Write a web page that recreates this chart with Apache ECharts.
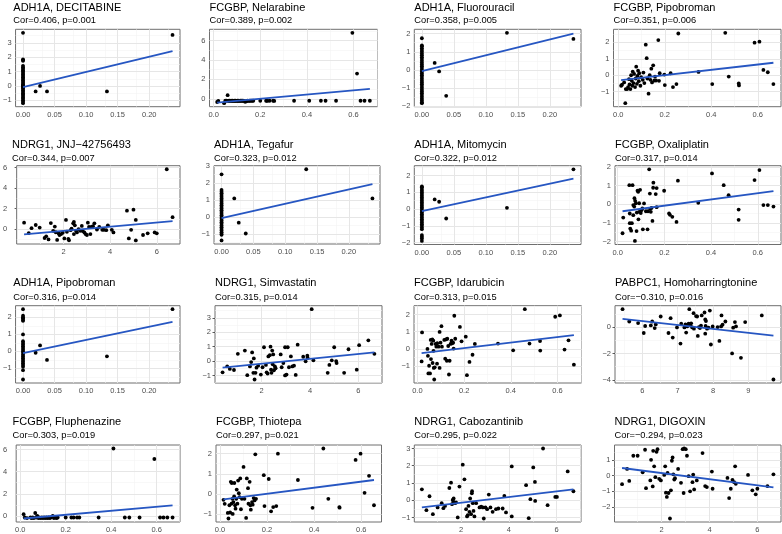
<!DOCTYPE html>
<html><head><meta charset="utf-8">
<script src="https://cdn.jsdelivr.net/npm/echarts@6/dist/echarts.min.js"></script>
<style>html,body{margin:0;padding:0;background:#fff}#c{width:782px;height:534px}</style>
</head><body><div id="c"></div><script>
// ---------- titles ----------
const panelTitles = ['ADH1A, DECITABINE','FCGBP, Nelarabine','ADH1A, Fluorouracil','FCGBP, Pipobroman',
 'NDRG1, JNJ\u221242756493','ADH1A, Tegafur','ADH1A, Mitomycin','FCGBP, Oxaliplatin',
 'ADH1A, Pipobroman','NDRG1, Simvastatin','FCGBP, Idarubicin','PABPC1, Homoharringtonine',
 'FCGBP, Fluphenazine','FCGBP, Thiotepa','NDRG1, Cabozantinib','NDRG1, DIGOXIN'];
const panelStats = ['Cor=0.406, p=0.001','Cor=0.389, p=0.002','Cor=0.358, p=0.005','Cor=0.351, p=0.006',
 'Cor=0.344, p=0.007','Cor=0.323, p=0.012','Cor=0.322, p=0.012','Cor=0.317, p=0.014',
 'Cor=0.316, p=0.014','Cor=0.315, p=0.014','Cor=0.313, p=0.015','Cor=\u22120.310, p=0.016',
 'Cor=0.303, p=0.019','Cor=0.297, p=0.021','Cor=0.295, p=0.022','Cor=\u22120.294, p=0.023'];

// ---------- tick labels ----------
const adh1aXTicks = [0,0.05,0.1,0.15,0.2];
const fcgbpXTicks = [0,0.2,0.4,0.6];
const ndrg1XTicks = [2,4,6];
const pabpc1XTicks = [6,7,8,9];
const yTicksDecitabine = [-1,0,1,2,3];
const yTicksNelarabine = [0,2,4,6];
const yTicksFluorouracil = [-2,-1,0,1,2];
const yTicksPipobromanF = [-1,0,1,2];
const yTicksJNJ = [0,2,4,6];
const yTicksTegafur = [-1,0,1,2,3];
const yTicksMitomycin = [-2,-1,0,1,2];
const yTicksOxaliplatin = [-2,-1,0,1,2];
const yTicksPipobromanA = [-1,0,1,2];
const yTicksSimvastatin = [-1,0,1,2,3];
const yTicksIdarubicin = [-1,0,1,2];
const yTicksHomo = [-4,-2,0];
const yTicksFluphenazine = [0,2,4,6];
const yTicksThiotepa = [-1,0,1,2];
const yTicksCabozantinib = [-1,0,1,2,3];
const yTicksDigoxin = [-2,-1,0,1];

// ---------- points [x, y] ----------
const decitabinePts = [[0,3.7],[0,1.85],[0,1.8],[0,1.75],[0,1.4],[0,1.3],[0,1.2],[0,1.1],[0,1.0],[0,0.9],[0,0.8],[0,0.7],[0,0.6],[0,0.5],[0,0.4],[0,0.3],[0,0.2],[0,0.1],[0,0.05],[0,0],[0,-0.05],[0,-0.1],[0,-0.2],[0,-0.3],[0,-0.4],[0,-0.5],[0,-0.6],[0,-0.7],[0,-0.8],[0,-0.9],[0,-1.0],[0,-1.1],[0,-1.2],
 [0.020,-0.38],[0.027,0.0],[0.038,-0.38],[0.133,-0.38],[0.237,3.55]];
const decitabineFit = [[0,-0.08],[0.237,2.42]];

const nelarabinePts = [[0.015,-0.33],[0.02,-0.22],[0.045,-0.45],[0.05,-0.2],[0.055,-0.18],[0.06,0.37],[0.062,-0.22],[0.066,-0.2],[0.07,-0.2],[0.074,-0.22],[0.078,-0.2],[0.082,-0.2],[0.086,-0.22],[0.09,-0.2],[0.094,-0.2],[0.098,-0.22],[0.102,-0.2],[0.106,-0.2],[0.11,-0.22],[0.114,-0.2],[0.118,-0.2],[0.122,-0.2],[0.126,-0.2],[0.13,-0.22],[0.135,-0.3],[0.14,-0.25],[0.145,-0.2],[0.15,-0.22],[0.155,-0.2],[0.16,-0.2],[0.165,-0.2],[0.17,-0.2],[0.2,-0.2],[0.225,-0.2],[0.23,-0.22],[0.24,-0.2],[0.255,-0.2],[0.26,-0.22],[0.345,-0.2],[0.41,-0.2],[0.46,-0.2],[0.48,-0.2],[0.525,-0.2],[0.595,6.8],[0.615,2.6],[0.63,-0.2],[0.647,-0.2],[0.67,-0.2]];
const nelarabineFit = [[0.015,-0.4],[0.67,1.02]];

const fluorouracilPts = [[0,1.75],[0,1.35],[0,1.3],[0,1.2],[0,1.1],[0,1.0],[0,0.9],[0,0.8],[0,0.7],[0,0.6],[0,0.5],[0,0.4],[0,0.3],[0,0.2],[0,0.1],[0,0.0],[0,-0.1],[0,-0.2],[0,-0.3],[0,-0.4],[0,-0.5],[0,-0.6],[0,-0.7],[0,-0.8],[0,-0.9],[0,-1.0],[0,-1.1],[0,-1.2],[0,-1.3],[0,-1.4],[0,-1.5],[0,-1.6],[0,-1.7],[0,-1.8],[0,-1.85],
 [0.020,0.38],[0.027,-0.09],[0.038,-1.44],[0.133,2.05],[0.237,1.71]];
const fluorouracilFit = [[0,-0.07],[0.237,2.0]];

const pipobromanFPts = [[0.012,-0.64],[0.016,-0.58],[0.025,-0.44],[0.03,-1.7],[0.032,-0.84],[0.038,-0.84],[0.042,-0.72],[0.046,-0.24],[0.048,-0.56],[0.052,-0.84],[0.055,0],[0.058,-0.34],[0.06,-0.64],[0.062,0.22],[0.065,-0.48],[0.068,0.08],[0.072,-0.72],[0.075,-0.2],[0.077,0.52],[0.08,-0.52],[0.082,-0.04],[0.085,0.28],[0.088,-0.36],[0.09,0.12],[0.095,-0.64],[0.098,-0.12],[0.105,-0.28],[0.108,0.16],[0.112,-0.48],[0.118,1.86],[0.122,1.04],[0.125,-0.2],[0.13,-1.12],[0.135,0.0],[0.138,-0.28],[0.142,0.4],[0.145,-0.44],[0.15,0.6],[0.155,-0.32],[0.158,-0.08],[0.162,-0.32],[0.172,2.14],[0.175,-0.34],[0.178,0.12],[0.198,0.04],[0.2,-0.6],[0.225,0.12],[0.235,-0.72],[0.25,-0.54],[0.258,2.54],[0.345,0.2],[0.404,-0.54],[0.46,2.58],[0.475,-0.08],[0.518,-0.5],[0.519,-0.62],[0.586,1.98],[0.607,2.04],[0.624,0.32],[0.643,0.18],[0.667,-0.54]];
const pipobromanFFit = [[0.012,-0.3],[0.667,0.76]];

const jnjPts = [[0.30,0.63],[0.50,-0.38],[0.62,0.1],[0.8,0.41],[0.97,0.16],[1.18,-0.86],[1.25,-0.7],[1.35,-1.0],[1.45,0.6],[1.55,-0.16],[1.62,0.25],[1.66,-0.3],[1.72,-1.05],[1.78,-0.4],[1.82,-0.57],[1.89,-0.48],[1.96,-0.35],[2.03,-0.9],[2.1,0.9],[2.14,-0.25],[2.2,-0.95],[2.23,-1.08],[2.3,-0.1],[2.34,0.06],[2.41,0.57],[2.44,0.7],[2.44,-0.48],[2.48,0.38],[2.53,-0.16],[2.57,-0.32],[2.64,0.0],[2.71,-0.16],[2.78,0.32],[2.82,-0.19],[2.89,-0.32],[2.94,-0.48],[3.0,-0.57],[3.04,0.63],[3.09,0.22],[3.15,-0.48],[3.19,0.22],[3.26,0.29],[3.32,0.57],[3.43,-0.03],[3.53,0.22],[3.66,-0.06],[3.73,-0.06],[3.83,-0.1],[3.9,0.38],[4.07,-0.06],[4.14,-0.32],[4.72,1.81],[4.8,-0.9],[4.9,-0.06],[5.0,1.9],[5.1,0.9],[5.1,-1.1],[5.41,-0.57],[5.61,-0.41],[5.91,-0.32],[6.0,-0.41],[6.43,5.85],[6.68,1.17]];
const jnjFit = [[0.30,-0.51],[6.68,0.79]];

const tegafurPts = [[0,2.52],[0,1.6],[0,1.5],[0,1.4],[0,1.3],[0,1.2],[0,1.1],[0,1.0],[0,0.9],[0,0.8],[0,0.7],[0,0.6],[0,0.5],[0,0.4],[0,0.3],[0,0.2],[0,0.1],[0,0],[0,-0.1],[0,-0.2],[0,-0.3],[0,-0.4],[0,-0.5],[0,-0.6],[0,-0.7],[0,-0.8],[0,-0.9],[0,-1.0],[0,-1.05],[0,-1.38],
 [0.020,1.1],[0.027,-0.33],[0.038,-0.97],[0.133,2.82],[0.237,1.1]];
const tegafurFit = [[0,-0.06],[0.237,1.95]];

const mitomycinPts = [[0,1.35],[0,1.3],[0,1.2],[0,1.1],[0,1.0],[0,0.9],[0,0.8],[0,0.7],[0,0.6],[0,0.5],[0,0.4],[0,0.3],[0,0.2],[0,0.1],[0,0],[0,-0.1],[0,-0.2],[0,-0.3],[0,-0.4],[0,-0.5],[0,-0.6],[0,-0.7],[0,-0.8],[0,-0.9],[0,-1.0],[0,-1.1],[0,-1.2],[0,-1.55],[0,-1.65],[0,-1.75],[0,-1.9],
 [0.020,0.58],[0.027,0.44],[0.038,-0.56],[0.133,0.08],[0.237,2.38]];
const mitomycinFit = [[0,-0.12],[0.237,1.82]];

const oxaliplatinPts = [[0.021,-1.56],[0.024,-0.72],[0.05,1.02],[0.052,-0.5],[0.052,-1.02],[0.054,-1.31],[0.058,-1.42],[0.061,-1.02],[0.064,1.02],[0.067,-0.59],[0.067,-0.05],[0.071,-0.13],[0.072,0.32],[0.074,-1.97],[0.075,0.18],[0.078,0.05],[0.081,-1.44],[0.082,-0.45],[0.085,0.72],[0.088,0.66],[0.089,-0.81],[0.092,0.05],[0.092,-0.41],[0.096,0.77],[0.099,-0.48],[0.102,-0.32],[0.106,-0.23],[0.108,-1.35],[0.113,0.04],[0.121,-0.38],[0.128,-1.35],[0.13,-0.38],[0.135,1.87],[0.138,0.57],[0.139,-0.25],[0.142,-0.41],[0.145,-0.2],[0.149,-0.9],[0.152,0.88],[0.153,1.15],[0.163,0.54],[0.167,0.86],[0.167,-0.16],[0.199,0.72],[0.22,-0.5],[0.224,-0.57],[0.234,-0.68],[0.252,-0.95],[0.258,1.26],[0.345,0.07],[0.404,1.65],[0.454,1.02],[0.475,0.48],[0.518,-0.29],[0.518,-0.84],[0.586,1.29],[0.607,1.83],[0.624,-0.05],[0.643,-0.05],[0.667,-0.13]];
const oxaliplatinFit = [[0.021,-0.38],[0.667,0.70]];

const pipobromanAPts = [[0,2.48],[0,2.1],[0,2.0],[0,1.95],[0,1.85],[0,1.8],[0,1.0],[0,0.6],[0,0.5],[0,0.4],[0,0.3],[0,0.2],[0,0.1],[0,0],[0,-0.1],[0,-0.2],[0,-0.3],[0,-0.4],[0,-0.5],[0,-0.6],[0,-0.7],[0,-0.8],[0,-0.9],[0,-1.1],[0,-1.65],
 [0.020,-0.08],[0.027,0.35],[0.038,-0.5],[0.133,-0.29],[0.237,2.48]];
const pipobromanAFit = [[0,-0.1],[0.237,1.73]];

const simvastatinPts = [[0.39,-0.78],[0.58,-0.37],[0.69,-0.55],[0.86,-0.62],[1.02,0.5],[1.31,0.73],[1.41,-0.98],[1.52,-0.37],[1.57,-0.07],[1.61,0.6],[1.66,-0.82],[1.68,0.18],[1.71,-1.28],[1.75,-0.82],[1.79,-0.46],[1.86,-0.32],[1.97,-0.94],[2.04,-0.43],[2.1,0.96],[2.18,-0.27],[2.21,-0.78],[2.25,-0.87],[2.28,0.32],[2.34,0.41],[2.37,1.0],[2.39,-0.6],[2.41,-0.82],[2.44,0.73],[2.46,-0.23],[2.48,0.46],[2.51,-0.64],[2.55,-0.37],[2.58,-0.5],[2.79,0.46],[2.83,-0.43],[2.9,-0.14],[2.97,0.96],[2.97,-1.0],[3.03,-0.94],[3.08,0.96],[3.13,-0.43],[3.21,0.32],[3.27,-0.37],[3.34,-0.32],[3.41,-0.96],[3.49,1.14],[3.72,0.3],[3.82,-0.02],[3.89,0.37],[3.9,0.23],[4.07,3.6],[4.14,0.05],[4.73,-0.82],[4.8,-0.27],[4.9,0.05],[5.0,0.96],[5.08,0.0],[5.1,-0.14],[5.41,-0.82],[5.59,0.82],[5.93,-0.6],[6.03,1.1],[6.41,1.44],[6.66,0.5]];
const simvastatinFit = [[0.39,-0.45],[6.66,0.6]];

const idarubicinPts = [[0.018,-0.73],[0.02,0.96],[0.043,0],[0.045,-0.4],[0.047,-1.43],[0.05,-0.98],[0.054,-1.43],[0.057,0.52],[0.058,-0.59],[0.061,0.29],[0.064,0.55],[0.065,-0.82],[0.068,0.48],[0.069,-0.11],[0.07,-1.11],[0.072,-1.78],[0.074,-1.07],[0.078,0.29],[0.081,0.13],[0.084,-0.86],[0.085,0.33],[0.091,0.13],[0.095,-1.11],[0.095,0.99],[0.099,0.36],[0.103,1.32],[0.105,0.13],[0.115,0.52],[0.119,-0.57],[0.122,0.55],[0.126,-0.69],[0.128,0.59],[0.132,0.17],[0.135,-1.49],[0.138,-0.69],[0.142,0.29],[0.146,0.48],[0.149,0.33],[0.153,0.36],[0.155,0.02],[0.158,1.93],[0.162,0.59],[0.182,1.28],[0.189,0.44],[0.207,0.71],[0.212,-1.53],[0.223,-0.76],[0.236,-0.34],[0.246,0.29],[0.345,0.31],[0.41,-0.08],[0.46,2.31],[0.48,0.31],[0.525,0.46],[0.526,-0.1],[0.59,1.87],[0.61,1.95],[0.63,-0.04],[0.647,0.5],[0.67,-0.92]];
const idarubicinFit = [[0.018,-0.25],[0.67,0.8]];

const homoPts = [[5.44,1.35],[5.63,0.42],[5.88,0.3],[6.04,-0.45],[6.08,0.08],[6.24,0.12],[6.28,0.42],[6.35,-0.08],[6.38,0.2],[6.52,0.8],[6.74,-0.45],[6.8,0.67],[6.86,-0.8],[6.98,-0.03],[7.08,-1.25],[7.1,0.25],[7.19,-0.03],[7.22,0.2],[7.24,-0.42],[7.27,0.05],[7.31,0.25],[7.33,1.35],[7.36,0.12],[7.38,0.28],[7.41,-0.03],[7.45,1.05],[7.46,-0.12],[7.52,0.83],[7.55,0.8],[7.57,-0.67],[7.6,0],[7.63,-0.08],[7.66,0.1],[7.68,0.88],[7.76,1.1],[7.78,-0.5],[7.78,0.57],[7.79,0.08],[7.8,0.45],[7.83,-0.12],[7.87,-0.05],[7.91,1.25],[7.94,-1.32],[7.99,0.05],[8.13,0],[8.18,-1.05],[8.23,0.05],[8.24,0.88],[8.27,0.18],[8.35,0.42],[8.54,-2.0],[8.57,-0.05],[8.62,0.38],[8.65,0.05],[8.79,-2.33],[8.91,0.38],[9.38,0.88],[9.71,-3.97]];
const homoFit = [[5.44,0.62],[9.71,-0.65]];

const fluphenazinePts = [[0.015,0.15],[0.02,-0.15],[0.03,-0.2],[0.045,-0.15],[0.05,-0.2],[0.055,-0.15],[0.06,-0.2],[0.066,0.26],[0.07,-0.15],[0.075,0.0],[0.08,-0.2],[0.085,-0.15],[0.09,-0.2],[0.095,-0.15],[0.1,-0.2],[0.105,-0.15],[0.11,-0.2],[0.115,-0.15],[0.12,-0.2],[0.125,-0.15],[0.13,-0.2],[0.135,-0.15],[0.143,0.0],[0.148,-0.2],[0.155,-0.15],[0.16,-0.2],[0.165,-0.15],[0.2,-0.15],[0.225,-0.15],[0.235,-0.15],[0.25,-0.15],[0.26,-0.15],[0.345,-0.15],[0.41,6.1],[0.46,-0.15],[0.48,-0.15],[0.525,-0.15],[0.59,5.15],[0.615,-0.15],[0.63,-0.15],[0.647,-0.15],[0.67,-0.15]];
const fluphenazineFit = [[0.015,-0.24],[0.67,0.94]];

const thiotepaPts = [[0.015,-0.3],[0.02,-0.5],[0.033,-0.95],[0.036,-1.23],[0.04,-0.57],[0.043,-0.93],[0.046,0.6],[0.049,-0.49],[0.05,0.54],[0.053,-0.25],[0.054,-1.0],[0.057,-0.41],[0.06,-0.13],[0.061,0.54],[0.064,-0.57],[0.066,-0.74],[0.069,-0.25],[0.071,0.21],[0.074,-0.49],[0.077,0.66],[0.08,0.03],[0.083,-0.16],[0.086,0.77],[0.089,-0.77],[0.093,-0.25],[0.1,1.34],[0.104,-0.25],[0.111,-1.2],[0.114,0.77],[0.119,0.28],[0.121,-0.49],[0.126,0.6],[0.129,-0.57],[0.131,-0.79],[0.136,-0.41],[0.139,-0.54],[0.143,-0.21],[0.147,-0.33],[0.15,1.97],[0.153,-0.25],[0.186,0.93],[0.189,-0.61],[0.207,0.74],[0.217,-0.87],[0.226,-0.66],[0.239,-0.61],[0.246,2.0],[0.331,0.69],[0.393,-0.7],[0.439,2.26],[0.46,-0.25],[0.507,-0.66],[0.508,-0.69],[0.576,1.69],[0.597,2.0],[0.614,0.05],[0.633,0.9],[0.654,-0.57]];
const thiotepaFit = [[0.015,-0.28],[0.654,0.69]];

const cabozantinibPts = [[0.36,0.63],[0.55,-0.58],[0.68,0.23],[0.82,-0.81],[1.02,-0.42],[1.19,-0.17],[1.26,-0.46],[1.33,-0.33],[1.51,0.71],[1.58,1.02],[1.62,-0.23],[1.65,0.02],[1.68,-0.1],[1.69,0.1],[1.75,-0.17],[1.79,-0.13],[1.86,-1.0],[1.93,0.79],[2.07,2.06],[2.14,1.21],[2.21,-0.52],[2.25,-0.94],[2.28,-0.87],[2.31,-0.33],[2.35,-0.67],[2.38,0.1],[2.42,-0.81],[2.45,0.4],[2.46,0.52],[2.49,-0.17],[2.52,-0.62],[2.56,-0.94],[2.63,-0.17],[2.77,-0.42],[2.84,-0.37],[2.91,-0.42],[2.95,-1.06],[3.02,-0.42],[3.09,-0.52],[3.16,0.33],[3.23,-0.42],[3.32,-0.67],[3.46,-0.52],[3.56,-0.48],[3.74,-0.48],[3.81,0.25],[3.88,-0.71],[4.12,-0.94],[4.12,1.96],[4.72,0.87],[4.83,-1.04],[4.9,0.06],[5.02,1.9],[5.09,1.06],[5.1,-0.04],[5.43,3.0],[5.62,-0.29],[5.94,0.19],[6.01,0.19],[6.46,1.67],[6.7,0.52]];
const cabozantinibFit = [[0.36,-0.42],[6.7,0.63]];

const digoxinPts = [[0.35,-0.55],[0.56,0.42],[0.65,-0.34],[0.82,1.26],[1.0,1.26],[1.21,0.21],[1.31,1.64],[1.35,-0.8],[1.53,-0.31],[1.56,1.0],[1.63,-0.69],[1.65,1.57],[1.69,0.59],[1.74,-0.1],[1.79,1.51],[1.83,1.68],[1.9,-0.21],[1.97,-0.31],[2.11,0.04],[2.15,0.59],[2.18,-1.09],[2.22,-1.36],[2.25,0.17],[2.29,-1.11],[2.35,-2.73],[2.39,-0.94],[2.43,0.94],[2.46,1.15],[2.49,0.08],[2.53,-0.25],[2.56,-0.17],[2.69,0.42],[2.81,-0.46],[2.88,1.68],[2.92,-1.11],[2.94,1.72],[3.01,1.68],[3.06,1.26],[3.13,-0.04],[3.19,-1.0],[3.29,-0.42],[3.32,0.06],[3.36,-0.88],[3.47,-0.31],[3.71,1.43],[3.82,-0.67],[3.89,-0.73],[4.1,0.25],[4.13,-0.84],[4.75,-0.15],[4.82,-1.43],[4.89,-0.84],[4.96,-0.27],[5.03,-0.42],[5.07,0.59],[5.1,-0.52],[5.61,0.04],[5.79,-0.94],[5.93,-1.19],[6.0,-0.84],[6.42,-0.67],[6.67,0.08]];
const digoxinFit = [[0.35,0.48],[6.67,-0.75]];

// ---------- layout (pixels) ----------
const FONT = '"Liberation Sans", Arial, Helvetica, sans-serif';
const rowTitleY = [8, 144.5, 283, 421.7];
const rowSubY = [20, 158, 297.3, 435.7];
const panels = [
 {pts:decitabinePts, fit:decitabineFit, xt:adh1aXTicks, yt:yTicksDecitabine, xd:2, box:[13.3,29.3,180,106.7], row:0},
 {pts:nelarabinePts, fit:nelarabineFit, xt:fcgbpXTicks, yt:yTicksNelarabine, xd:1, box:[209.5,29.3,377.5,106.7], row:0},
 {pts:fluorouracilPts, fit:fluorouracilFit, xt:adh1aXTicks, yt:yTicksFluorouracil, xd:2, box:[414.3,29.3,581,106.7], row:0},
 {pts:pipobromanFPts, fit:pipobromanFFit, xt:fcgbpXTicks, yt:yTicksPipobromanF, xd:1, box:[613.5,29.3,781,106.7], row:0},
 {pts:jnjPts, fit:jnjFit, xt:ndrg1XTicks, yt:yTicksJNJ, xd:0, box:[12,165.7,180,244], row:1, ym:9.5},
 {pts:tegafurPts, fit:tegafurFit, xt:adh1aXTicks, yt:yTicksTegafur, xd:2, box:[214,165.7,380,244], row:1},
 {pts:mitomycinPts, fit:mitomycinFit, xt:adh1aXTicks, yt:yTicksMitomycin, xd:2, box:[414.3,165.7,581,244.5], row:1},
 {pts:oxaliplatinPts, fit:oxaliplatinFit, xt:fcgbpXTicks, yt:yTicksOxaliplatin, xd:1, box:[615,165.7,781,244.5], row:1},
 {pts:pipobromanAPts, fit:pipobromanAFit, xt:adh1aXTicks, yt:yTicksPipobromanA, xd:2, box:[13.3,305.7,180,383], row:2},
 {pts:simvastatinPts, fit:simvastatinFit, xt:ndrg1XTicks, yt:yTicksSimvastatin, xd:0, box:[215,305.7,382,383], row:2},
 {pts:idarubicinPts, fit:idarubicinFit, xt:fcgbpXTicks, yt:yTicksIdarubicin, xd:1, box:[414,305.7,581.5,383], row:2},
 {pts:homoPts, fit:homoFit, xt:pabpc1XTicks, yt:yTicksHomo, xd:0, box:[615,305.7,781,383], row:2},
 {pts:fluphenazinePts, fit:fluphenazineFit, xt:fcgbpXTicks, yt:yTicksFluphenazine, xd:1, box:[12.5,445,180,523], row:3, ym:9},
 {pts:thiotepaPts, fit:thiotepaFit, xt:fcgbpXTicks, yt:yTicksThiotepa, xd:1, box:[216,445,381.5,523], row:3},
 {pts:cabozantinibPts, fit:cabozantinibFit, xt:ndrg1XTicks, yt:yTicksCabozantinib, xd:0, box:[414.3,445,581,523], row:3},
 {pts:digoxinPts, fit:digoxinFit, xt:ndrg1XTicks, yt:yTicksDigoxin, xd:0, box:[614.5,445,781,523], row:3}
];

function fmt(v, d) { const s = Math.abs(v).toFixed(d); return v < 0 ? '\u2212' + s : s; }
function extent(pts, k) {
  let lo = Infinity, hi = -Infinity;
  pts.forEach(p => { lo = Math.min(lo, p[k]); hi = Math.max(hi, p[k]); });
  const pad = (hi - lo) * 0.05; return [lo - pad, hi + pad];
}
function minorsOf(t, lo, hi) {
  const step = t[1] - t[0], out = [];
  for (let i = -1; i < t.length; i++) { const v = t[0] + step * (i + 0.5); if (v > lo && v < hi) out.push(v); }
  return out;
}

const option = { animation:false, backgroundColor:'#fff', title:[], grid:[], xAxis:[], yAxis:[], series:[] };
const AXC = '#333333';
panels.forEach((p, i) => {
  const [l, t, r, b] = p.box;
  const xr = extent(p.pts.concat(p.fit), 0), yr = extent(p.pts.concat(p.fit), 1);
  option.title.push({ text: panelTitles[i], left: l, top: rowTitleY[p.row] - 6.5, padding: 0,
    textStyle: { fontSize: 11, fontWeight: 'normal', color: '#000', fontFamily: FONT, lineHeight: 13 } });
  option.title.push({ text: panelStats[i], left: l, top: rowSubY[p.row] - 5.5, padding: 0,
    textStyle: { fontSize: 9.3, fontWeight: 'normal', color: '#000', fontFamily: FONT, lineHeight: 11 } });
  option.grid.push({ left: l, top: t, width: r - l, height: b - t, show: true, backgroundColor: '#fff',
    borderColor: '#6f6f6f', borderWidth: 1, z: 0 });
  option.xAxis.push({ gridIndex: i, type: 'value', min: xr[0], max: xr[1], position: 'bottom',
    axisLine: { show: false }, splitLine: { show: false },
    axisTick: { show: true, length: 2.5, lineStyle: { color: AXC, width: 0.8 }, customValues: p.xt },
    axisLabel: { customValues: p.xt, formatter: v => fmt(v, p.xd), fontSize: 7.5, color: '#4d4d4d', margin: 4, fontFamily: FONT, interval: 0 } });
  option.yAxis.push({ gridIndex: i, type: 'value', min: yr[0], max: yr[1], position: 'left',
    axisLine: { show: false }, splitLine: { show: false },
    axisTick: { show: true, length: 2.5, lineStyle: { color: AXC, width: 0.8 }, customValues: p.yt },
    axisLabel: { customValues: p.yt, formatter: v => fmt(v, 0), fontSize: 7.5, color: '#4d4d4d', margin: p.ym || 4, fontFamily: FONT, interval: 0 } });
  const gl = [];
  minorsOf(p.xt, xr[0], xr[1]).forEach(v => gl.push({ xAxis: v, lineStyle: { color: '#f3f3f3', width: 0.6, type: 'solid' } }));
  minorsOf(p.yt, yr[0], yr[1]).forEach(v => gl.push({ yAxis: v, lineStyle: { color: '#f3f3f3', width: 0.6, type: 'solid' } }));
  p.xt.forEach(v => gl.push({ xAxis: v, lineStyle: { color: '#e6e6e6', width: 1, type: 'solid' } }));
  p.yt.forEach(v => gl.push({ yAxis: v, lineStyle: { color: '#e6e6e6', width: 1, type: 'solid' } }));
  option.series.push({ type: 'scatter', xAxisIndex: i, yAxisIndex: i, data: [], silent: true, z: 1,
    markLine: { z: 1, silent: true, symbol: ['none', 'none'], label: { show: false }, animation: false, data: gl } });
  option.series.push({ type: 'scatter', xAxisIndex: i, yAxisIndex: i, data: p.pts, symbolSize: 3.8,
    itemStyle: { color: '#000', opacity: 1 }, silent: true, z: 3 });
  option.series.push({ type: 'line', xAxisIndex: i, yAxisIndex: i, data: p.fit, showSymbol: false, symbol: 'none',
    lineStyle: { color: '#2656c2', width: 1.8 }, silent: true, z: 4 });
});
const chart = echarts.init(document.getElementById('c'), null, { renderer: 'canvas' });
chart.setOption(option);
</script></body></html>
